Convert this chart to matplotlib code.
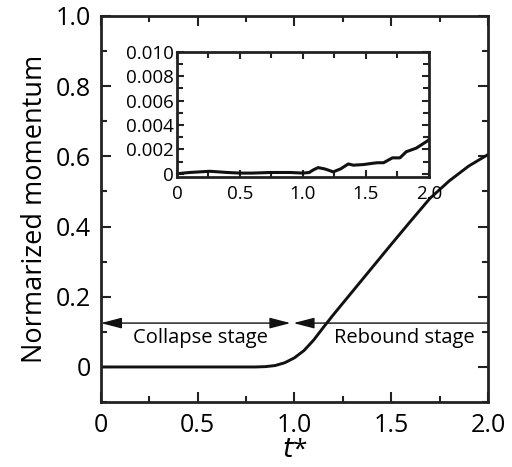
import matplotlib
matplotlib.use("Agg")
import matplotlib.pyplot as plt
from matplotlib.ticker import MultipleLocator, FixedFormatter, FixedLocator
from matplotlib.patches import FancyArrowPatch

plt.rcParams["font.family"] = ["Open Sans", "DejaVu Sans"]

# main curve: normalized momentum vs t*
t_main = [0, 0.2, 0.4, 0.6, 0.8, 0.85, 0.9, 0.95, 1.0, 1.05, 1.1, 1.15,
          1.2, 1.3, 1.4, 1.5, 1.6, 1.7, 1.8, 1.9, 2.0]
p_main = [0, 0, 0, 0, 0, 0.001, 0.004, 0.012, 0.026, 0.047, 0.077, 0.113,
          0.148, 0.215, 0.282, 0.349, 0.415, 0.48, 0.53, 0.572, 0.605]

# inset curve (zoomed)
t_in = [0, 0.1, 0.26, 0.4, 0.5, 0.6, 0.74, 0.9, 1.0, 1.05, 1.08, 1.12, 1.17,
        1.2, 1.24, 1.3, 1.36, 1.4, 1.48, 1.55, 1.59, 1.64, 1.71, 1.77, 1.82,
        1.9, 1.99, 2.0]
v_in = [0, 0.0001, 0.0002, 0.0001, 0.00005, 0.00005, 0.0001, 0.0001, 0.00005,
        0.0001, 0.0003, 0.0005, 0.0004, 0.0003, 0.00015, 0.0004, 0.0008, 0.0007,
        0.00075, 0.00085, 0.0009, 0.0009, 0.0013, 0.0013, 0.0018, 0.0021,
        0.0027, 0.0028]

main_xticks = [0, 0.5, 1.0, 1.5, 2.0]
main_xlabels = ["0", "0.5", "1.0", "1.5", "2.0"]
main_yticks = [0, 0.2, 0.4, 0.6, 0.8, 1.0]
main_ylabels = ["0", "0.2", "0.4", "0.6", "0.8", "1.0"]
in_yticks = [0, 0.002, 0.004, 0.006, 0.008, 0.010]
in_ylabels = ["0", "0.002", "0.004", "0.006", "0.008", "0.010"]

fig = plt.figure(figsize=(5.12, 4.67), dpi=100)
ax = fig.add_axes([0.197, 0.139, 0.756, 0.827])

ax.plot(t_main, p_main, color="#111111", lw=2.1)
ax.set_xlim(0, 2.0)
ax.set_ylim(-0.1, 1.0)

ax.xaxis.set_major_locator(FixedLocator(main_xticks))
ax.xaxis.set_major_formatter(FixedFormatter(main_xlabels))
ax.xaxis.set_minor_locator(MultipleLocator(0.25))
ax.yaxis.set_major_locator(FixedLocator(main_yticks))
ax.yaxis.set_major_formatter(FixedFormatter(main_ylabels))
ax.yaxis.set_minor_locator(MultipleLocator(0.1))
ax.tick_params(which="both", direction="in", top=True, right=True,
               width=1.5, labelsize=18, color="#222222")
ax.tick_params(axis="y", pad=7)
ax.tick_params(axis="x", pad=8)
ax.tick_params(which="major", length=7)
ax.tick_params(which="minor", length=4.5)
for s in ax.spines.values():
    s.set_linewidth(2)
    s.set_color("#222222")

ax.set_ylabel("Normarized momentum", fontsize=19.5, labelpad=5)
ax.set_xlabel("$t$*", fontsize=19, labelpad=0)

# stage arrows
y_arr = 0.125
a1 = FancyArrowPatch((0, y_arr), (0.98, y_arr),
                     arrowstyle="<|-|>,head_length=0.85,head_width=0.22",
                     mutation_scale=15, lw=1, color="#111111",
                     shrinkA=0, shrinkB=0)
a2 = FancyArrowPatch((2.0, y_arr), (0.995, y_arr),
                     arrowstyle="-|>,head_length=0.85,head_width=0.22",
                     mutation_scale=15, lw=1, color="#111111",
                     shrinkA=0, shrinkB=0)
ax.add_patch(a1)
ax.add_patch(a2)
ax.text(0.516, 0.083, "Collapse stage", fontsize=14.5, ha="center", va="center")
ax.text(1.566, 0.083, "Rebound stage", fontsize=14.5, ha="center", va="center")

# inset
ins = fig.add_axes([0.3457, 0.621, 0.492, 0.268])
ins.plot(t_in, v_in, color="#111111", lw=2.2)
ins.set_xlim(0, 2.0)
ins.set_ylim(-0.00027, 0.010)
ins.xaxis.set_major_locator(FixedLocator(main_xticks))
ins.xaxis.set_major_formatter(FixedFormatter(main_xlabels))
ins.xaxis.set_minor_locator(MultipleLocator(0.25))
ins.yaxis.set_major_locator(FixedLocator(in_yticks))
ins.yaxis.set_major_formatter(FixedFormatter(in_ylabels))
ins.yaxis.set_minor_locator(MultipleLocator(0.001))
ins.tick_params(which="both", direction="in", top=True, right=True,
                width=1.5, labelsize=13.5, color="#222222")
ins.tick_params(axis="y", pad=2)
ins.tick_params(axis="x", pad=6)
ins.tick_params(which="major", length=5)
ins.tick_params(which="minor", length=4)
for s in ins.spines.values():
    s.set_linewidth(2)
    s.set_color("#222222")

fig.savefig("out.png", dpi=100)
